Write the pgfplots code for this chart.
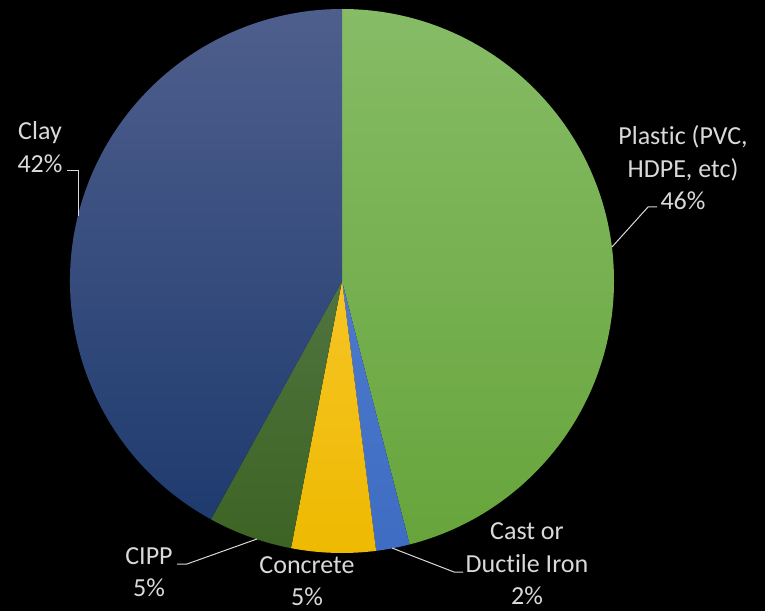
\documentclass[border=0pt]{standalone}
\usepackage{pgfplots}
\pgfplotsset{compat=1.18}
\usepackage{pgfplotstable}
\usepackage{fontspec}
\setmainfont{Carlito}[Ligatures={NoCommon,NoContextual}]

\definecolor{txt}{HTML}{D9D9D9}
\definecolor{plaT}{HTML}{86BC66}
\definecolor{plaM}{HTML}{6FAD44}
\definecolor{plaB}{HTML}{66A43A}
\definecolor{irnT}{HTML}{5A86D4}
\definecolor{irnM}{HTML}{4D7BD0}
\definecolor{irnB}{HTML}{3E6CC2}
\definecolor{conT}{HTML}{FFD04A}
\definecolor{conM}{HTML}{FFC61F}
\definecolor{conB}{HTML}{EEB900}
\definecolor{cipT}{HTML}{64845A}
\definecolor{cipM}{HTML}{52763A}
\definecolor{cipB}{HTML}{3C6323}
\definecolor{clyT}{HTML}{4F5F8D}
\definecolor{clyM}{HTML}{223F76}
\definecolor{clyB}{HTML}{1B386C}

% share of sewer pipe material, percent
\pgfplotstableread{
label    value
Plastic  46
Cast     2
Concrete 5
CIPP     5
Clay     42
}\piedata

% pie geometry in picture pixels (1px = 0.5pt)
\def\cx{342}
\def\cy{-281}
\def\rad{136pt}

% cumulative start/end angles, clockwise from the top
\def\angsum{90}
\pgfplotsforeachungrouped \i in {0,...,4}{%
  \pgfplotstablegetelem{\i}{value}\of\piedata
  \expandafter\let\csname start\i\endcsname\angsum
  \pgfmathsetmacro\angsum{\angsum-3.6*\pgfplotsretval}%
  \expandafter\let\csname end\i\endcsname\angsum
}

% axis commands are run at \end{axis}, so the angles are looked up by name there
\newcommand\slice[4]{%
  \begin{scope}
    \clip (axis cs:\cx,\cy) -- ++(\csname start#1\endcsname:\rad)
      arc[start angle=\csname start#1\endcsname, end angle=\csname end#1\endcsname, radius=\rad] -- cycle;
    \shade[top color=#2, middle color=#3, bottom color=#4]
      (axis cs:60,-5) rectangle (axis cs:625,-560);
  \end{scope}}

\begin{document}
\begin{tikzpicture}
\begin{axis}[
  x=0.5pt, y=0.5pt,
  xmin=0, xmax=765, ymin=-611, ymax=0,
  hide axis, clip=false,
]
  \fill[black] (axis cs:0,-611) rectangle (axis cs:765,0);
  \coordinate (bl) at (axis cs:0,-611);
  \coordinate (tr) at (axis cs:765,0);

  \slice{0}{plaT}{plaM}{plaB}
  \slice{1}{irnT}{irnM}{irnB}
  \slice{2}{conT}{conM}{conB}
  \slice{3}{cipT}{cipM}{cipB}
  \slice{4}{clyT}{clyM}{clyB}

  % leader lines
  \draw[txt, line width=0.5pt] (axis cs:612,-247) -- (axis cs:648,-207) -- (axis cs:657,-207);
  \draw[txt, line width=0.5pt] (axis cs:78,-216) -- (axis cs:78,-171) -- (axis cs:67,-171);
  \draw[txt, line width=0.5pt] (axis cs:257,-539) -- (axis cs:187,-564) -- (axis cs:177,-564);
  \draw[txt, line width=0.5pt] (axis cs:392,-548) -- (axis cs:454,-572) -- (axis cs:463,-572);

  % data labels
  \begin{scope}[every node/.style={text=txt, align=center, inner sep=0pt,
      font=\fontsize{13pt}{16.2pt}\selectfont}]
    \node at (axis cs:683,-168) {Plastic (PVC,\\HDPE, etc)\\46\%};
    \node at (axis cs:40,-147) {Clay\\42\%};
    \node at (axis cs:149,-572) {CIPP\\5\%};
    \node at (axis cs:307,-581) {Concrete\\5\%};
    \node at (axis cs:527,-564) {Cast or\\Ductile Iron\\2\%};
  \end{scope}
\end{axis}
\pgfresetboundingbox
\path (bl) rectangle (tr);
\end{tikzpicture}
\end{document}
